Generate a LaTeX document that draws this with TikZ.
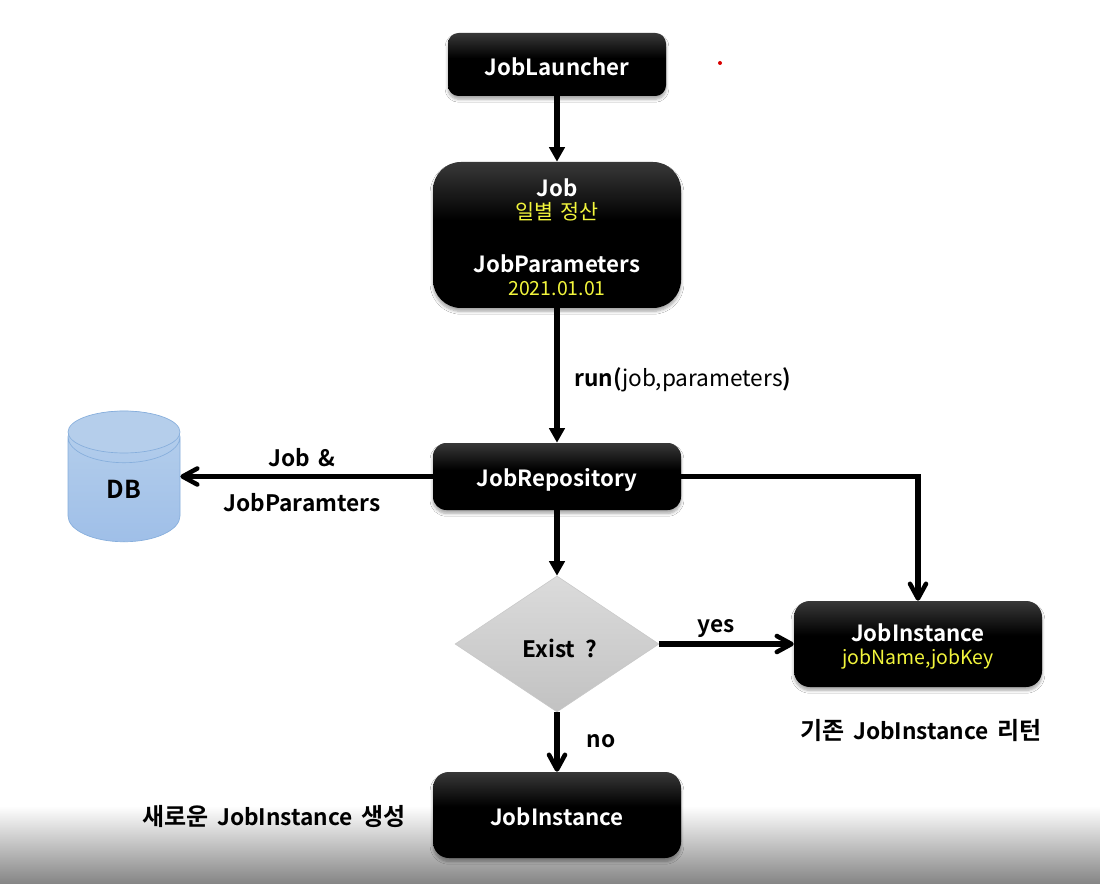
\documentclass[tikz,border=0pt]{standalone}
\usepackage{fontspec}
\setmainfont{Noto Sans CJK KR}[BoldFont={* Bold}]
\usetikzlibrary{arrows.meta,shapes.geometric,shadows.blur}
\definecolor{tipyellow}{HTML}{F2F53C}
\definecolor{dbtop}{HTML}{B7D0EC}
\definecolor{dbbot}{HTML}{9FBFE8}
\definecolor{dbcap}{HTML}{B5CEEB}
\definecolor{dbline}{HTML}{86AEDC}
\pgfdeclareverticalshading{boxshade}{100bp}{color(0bp)=(black);color(55bp)=(black);color(84bp)=(black!68!white);color(100bp)=(black!62!white)}
\tikzset{
  blackbox/.style={rectangle,shading=boxshade,text=white,align=center,inner sep=0pt,font=\fontsize{16.7}{20}\selectfont\bfseries,
    blur shadow={shadow xshift=0pt,shadow yshift=-2.5pt,shadow blur steps=6,shadow blur extra rounding=2pt,shadow opacity=35}},
  wire/.style={line width=3.9pt,draw=black},
  solidtip/.style={wire,-{Triangle[length=11pt,width=11.5pt]}},
  opentip/.style={wire,-{Straight Barb[length=11pt,width=12pt,line width=3.4pt,round]}},
  caption/.style={font=\fontsize{17}{20}\selectfont\bfseries,inner sep=0pt},
}
\newcommand{\subline}[1]{{\fontsize{14.6}{17}\selectfont\mdseries\color{tipyellow}#1}}
\newcommand{\krsub}[1]{{\fontsize{15.5}{17}\selectfont\mdseries\color{tipyellow}#1}}
\newcommand{\kr}[1]{{\fontsize{18}{20}\selectfont #1}}
\newcommand{\lowered}[2]{\raisebox{-#1}[0pt][0pt]{#2}}
\begin{document}
\begin{tikzpicture}[x=0.75pt,y=-0.75pt]
\useasboundingbox (0,0) rectangle (1100,884);
\fill[white] (0,0) rectangle (1100,884);
\shade[top color=white,bottom color=black!48!white] (0,806) rectangle (1100,884);
\fill[red!85!black] (720,63) circle (2);

\node[blackbox,minimum width=163.5pt,minimum height=47.25pt,rounded corners=8pt] (launcher) at (557,64.5) {\lowered{8.2pt}{JobLauncher}};
\node[blackbox,minimum width=186pt,minimum height=109.5pt,rounded corners=21pt] (job) at (557,235)
  {\rule{0pt}{16.5pt}Job\\[-2.5pt]\krsub{일별\hspace{0.15em} 정산}\\[20pt]JobParameters\\[-3pt]\subline{2021.01.01}};
\node[blackbox,minimum width=186pt,minimum height=50.25pt,rounded corners=10pt] (repo) at (557,476.5) {\lowered{7.2pt}{JobRepository}};
\node[blackbox,minimum width=186pt,minimum height=64.5pt,rounded corners=12pt] (known) at (918,644)
  {\rule{0pt}{17.5pt}JobInstance\\[-2.5pt]\subline{jobName,jobKey}};
\node[blackbox,minimum width=186pt,minimum height=64.5pt,rounded corners=12pt] (fresh) at (557,815) {\lowered{7.5pt}{JobInstance}};

\node[diamond,aspect=1.5,inner sep=0pt,minimum width=153pt,minimum height=102pt,top color=black!14!white,bottom color=black!24!white,draw=black!22!white,line width=0.4pt,font=\fontsize{17}{20}\selectfont\bfseries] (exist) at (557,644) {\hspace*{4pt}\lowered{9.8pt}{Exist\hspace{0.2em} ?}};

\node[cylinder,shape border rotate=90,aspect=1.5,minimum width=84pt,minimum height=98pt,inner sep=0pt,draw=dbline,line width=0.5pt,top color=dbtop,bottom color=dbbot,font=\fontsize{18.5}{22}\selectfont\bfseries] (db) at (124,489.5) {DB};
\draw[draw=dbline,line width=0.5pt,fill=dbcap] (124,432) ellipse [x radius=56,y radius=21];

\draw[solidtip] (launcher.south) -- (job.north);
\draw[solidtip] (job.south) -- (repo.north);
\draw[solidtip] (repo.south) -- (exist.north);
\draw[opentip] (repo.west) -- (repo.west -| db.east);
\draw[opentip] (repo.east) -| (known.north);
\draw[opentip] (exist.east) -- (known.west);
\draw[opentip] (exist.south) -- (fresh.north);

\node[caption,font=\fontsize{17}{20}\selectfont] (runlabel) at (683,380) {\textbf{run(}job,parameters\textbf{)}};
\node[caption] (joblabel) at (302,458) {Job\hspace{0.15em} \&};
\node[caption] (paramlabel) at (302,503) {JobParamters};
\node[caption] (yeslabel) at (716,629) {yes};
\node[caption] (nolabel) at (601,741) {no};
\node[caption] (newlabel) at (274,817) {\kr{새로운}\hspace{0.15em} JobInstance\hspace{0.15em} \kr{생성}};
\node[caption] (oldlabel) at (921,731) {\kr{기존}\hspace{0.15em} JobInstance\hspace{0.15em} \kr{리턴}};
\end{tikzpicture}
\end{document}
